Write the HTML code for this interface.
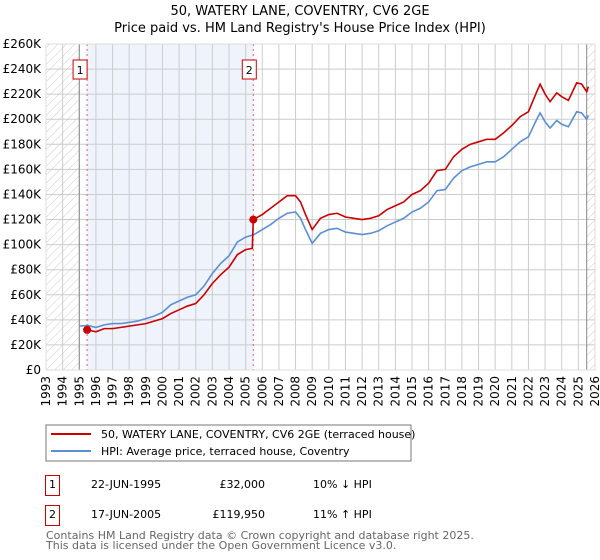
<!DOCTYPE html>
<html><head><meta charset="utf-8"><style>
body{margin:0;background:#fff;font-family:"Liberation Sans","DejaVu Sans",sans-serif;}
#wrap{position:relative;width:600px;height:560px;overflow:hidden;}
</style></head><body>
<div id="wrap">
<svg id="chart" width="600" height="560" xmlns="http://www.w3.org/2000/svg" font-family="DejaVu Sans, Liberation Sans, sans-serif">
<defs><pattern id="hatch" width="6" height="6" patternUnits="userSpaceOnUse" patternTransform="rotate(45)"><line x1="0" y1="0" x2="0" y2="6" stroke="#ccc" stroke-width="1"/></pattern></defs>
<text x="300" y="15" text-anchor="middle" font-size="13">50, WATERY LANE, COVENTRY, CV6 2GE</text>
<text x="300" y="32" text-anchor="middle" font-size="13">Price paid vs. HM Land Registry's House Price Index (HPI)</text>
<g id="plot"></g>
<g>
<rect x="46" y="425" width="365" height="36" fill="#fff" stroke="#777"/>
<line x1="51" y1="434" x2="91" y2="434" stroke="#cc0000" stroke-width="2"/>
<text x="101" y="438" font-size="11">50, WATERY LANE, COVENTRY, CV6 2GE (terraced house)</text>
<line x1="51" y1="451" x2="91" y2="451" stroke="#5b8fd4" stroke-width="2"/>
<text x="101" y="455" font-size="11">HPI: Average price, terraced house, Coventry</text>
</g>
<g font-size="11">
<rect x="45.5" y="475.5" width="14" height="20" fill="#fff" stroke="#cc0000"/>
<text x="52.5" y="488" text-anchor="middle">1</text>
<text x="91" y="488">22-JUN-1995</text>
<text x="265" y="488" text-anchor="end">£32,000</text>
<text x="313" y="488">10% ↓ HPI</text>
<rect x="45.5" y="505.5" width="14" height="20" fill="#fff" stroke="#cc0000"/>
<text x="52.5" y="518" text-anchor="middle">2</text>
<text x="91" y="518">17-JUN-2005</text>
<text x="265" y="518" text-anchor="end">£119,950</text>
<text x="313" y="518">11% ↑ HPI</text>
</g>
<text x="46" y="539" font-size="11" fill="#666">Contains HM Land Registry data © Crown copyright and database right 2025.</text>
<text x="46" y="549" font-size="11" fill="#666">This data is licensed under the Open Government Licence v3.0.</text>
</svg>
</div>
<script>
const yTicks=[0,20,40,60,80,100,120,140,160,180,200,220,240,260];
const yTickLabels=["£0","£20K","£40K","£60K","£80K","£100K","£120K","£140K","£160K","£180K","£200K","£220K","£240K","£260K"];
const xYears=[1993,1994,1995,1996,1997,1998,1999,2000,2001,2002,2003,2004,2005,2006,2007,2008,2009,2010,2011,2012,2013,2014,2015,2016,2017,2018,2019,2020,2021,2022,2023,2024,2025,2026];
const hpiYears=[1995.0,1995.5,1996.0,1996.5,1997.0,1997.5,1998.0,1998.5,1999.0,1999.5,2000.0,2000.5,2001.0,2001.5,2002.0,2002.5,2003.0,2003.5,2004.0,2004.5,2005.0,2005.5,2006.0,2006.5,2007.0,2007.5,2008.0,2008.3,2008.6,2009.0,2009.5,2010.0,2010.5,2011.0,2011.5,2012.0,2012.5,2013.0,2013.5,2014.0,2014.5,2015.0,2015.5,2016.0,2016.5,2017.0,2017.5,2018.0,2018.5,2019.0,2019.5,2020.0,2020.5,2021.0,2021.5,2022.0,2022.5,2022.7,2023.0,2023.3,2023.7,2024.0,2024.4,2024.9,2025.2,2025.5,2025.6];
const hpiValues=[35,35.5,34,36,37,37,38,39,41,43,46,52,55,58,60,67,77,85,91,102,106,108,112,116,121,125,126,121,112,101,109,112,113,110,109,108,109,111,115,118,121,126,129,134,143,144,153,159,162,164,166,166,170,176,182,186,200,205,198,193,199,196,194,206,205,200,203];
const priceYears=[1995.47,1996.0,1996.5,1997.0,1997.5,1998.0,1998.5,1999.0,1999.5,2000.0,2000.5,2001.0,2001.5,2002.0,2002.5,2003.0,2003.5,2004.0,2004.5,2005.0,2005.4,2005.46,2006.0,2006.5,2007.0,2007.5,2008.0,2008.3,2008.6,2009.0,2009.5,2010.0,2010.5,2011.0,2011.5,2012.0,2012.5,2013.0,2013.5,2014.0,2014.5,2015.0,2015.5,2016.0,2016.5,2017.0,2017.5,2018.0,2018.5,2019.0,2019.5,2020.0,2020.5,2021.0,2021.5,2022.0,2022.5,2022.7,2023.0,2023.3,2023.7,2024.0,2024.4,2024.9,2025.2,2025.5,2025.6];
const priceValues=[32,30.5,33,33,34,35,36,37,39,41,45,48,51,53,60,69,76,82,92,96,97,119.95,124,129,134,139,139,134,124,112,121,124,125,122,121,120,121,123,128,131,134,140,143,149,159,160,170,176,180,182,184,184,189,195,202,206,222,228,220,214,221,218,215,229,228,222,226];
const saleYears=[1995.47,2005.46];
const saleValues=[32,119.95];
const saleLabels=["1","2"];

const NS="http://www.w3.org/2000/svg";
const X0=46,X1=595,Y0=370,Y1=44;
const xs=y=>X0+(y-1993)/(2026-1993)*(X1-X0);
const ys=v=>Y0-v/260*(Y0-Y1);
const plot=document.getElementById('plot');
function mk(tag,attrs,parent){const e=document.createElementNS(NS,tag);for(const k in attrs)e.setAttribute(k,attrs[k]);(parent||plot).appendChild(e);return e;}

let r=mk('rect',{x:xs(1995.47),y:Y1,width:xs(2005.46)-xs(1995.47),height:Y0-Y1,fill:'#eef3fc'});


r=mk('rect',{x:X0,y:Y1,width:xs(1995)-X0,height:Y0-Y1,fill:'url(#hatch)'});


r=mk('rect',{x:xs(2025.5),y:Y1,width:X1-xs(2025.5),height:Y0-Y1,fill:'url(#hatch)'});



yTicks.forEach((t,i)=>{
  const l=mk('line',{x1:X0,x2:X1,y1:ys(t),y2:ys(t),stroke:'#ccc','stroke-width':1});
  
  
  const tx=mk('text',{x:41,y:ys(t)+4,'text-anchor':'end','font-size':12});
  tx.textContent=yTickLabels[i];
  
  
});
xYears.forEach(yr=>{
  const l=mk('line',{x1:xs(yr),x2:xs(yr),y1:Y1,y2:Y0,stroke:'#ccc','stroke-width':1});
  
  
  const px=xs(yr)+4, py=376;
  const tx=mk('text',{x:px,y:py,'text-anchor':'end','font-size':12,transform:'rotate(-90 '+px+' '+py+')'});
  tx.textContent=yr;
  
  
});
let b=mk('line',{x1:xs(1995),x2:xs(1995),y1:Y1,y2:Y0,stroke:'#888'});


b=mk('line',{x1:xs(2025.5),x2:xs(2025.5),y1:Y1,y2:Y0,stroke:'#888'});



saleYears.forEach((yr,i)=>{
  const l=mk('line',{x1:xs(yr),x2:xs(yr),y1:Y1,y2:Y0,stroke:'#e06060','stroke-dasharray':'2,3'});
  
  
});

const hp=mk('polyline',{points:hpiYears.map((y,i)=>xs(y)+','+ys(hpiValues[i])).join(' '),fill:'none',stroke:'#5b8fd4','stroke-width':1.6});


const pp=mk('polyline',{points:priceYears.map((y,i)=>xs(y)+','+ys(priceValues[i])).join(' '),fill:'none',stroke:'#cc0000','stroke-width':1.6});



saleYears.forEach((yr,i)=>{
  const c=mk('circle',{cx:xs(yr),cy:ys(saleValues[i]),r:4,fill:'#cc0000'});
  
  
  const bx=xs(yr)-(i===0?7:4)-7;
  const rr=mk('rect',{x:bx,y:60,width:14,height:19,fill:'#fff',stroke:'#cc0000'});
  
  
  const t=mk('text',{x:bx+7,y:74,'text-anchor':'middle','font-size':11});
  t.textContent=saleLabels[i];
  
  
});
const fr=mk('rect',{x:X0,y:Y1,width:X1-X0,height:Y0-Y1,fill:'none',stroke:'#ddd'});


</script>
</body></html>
